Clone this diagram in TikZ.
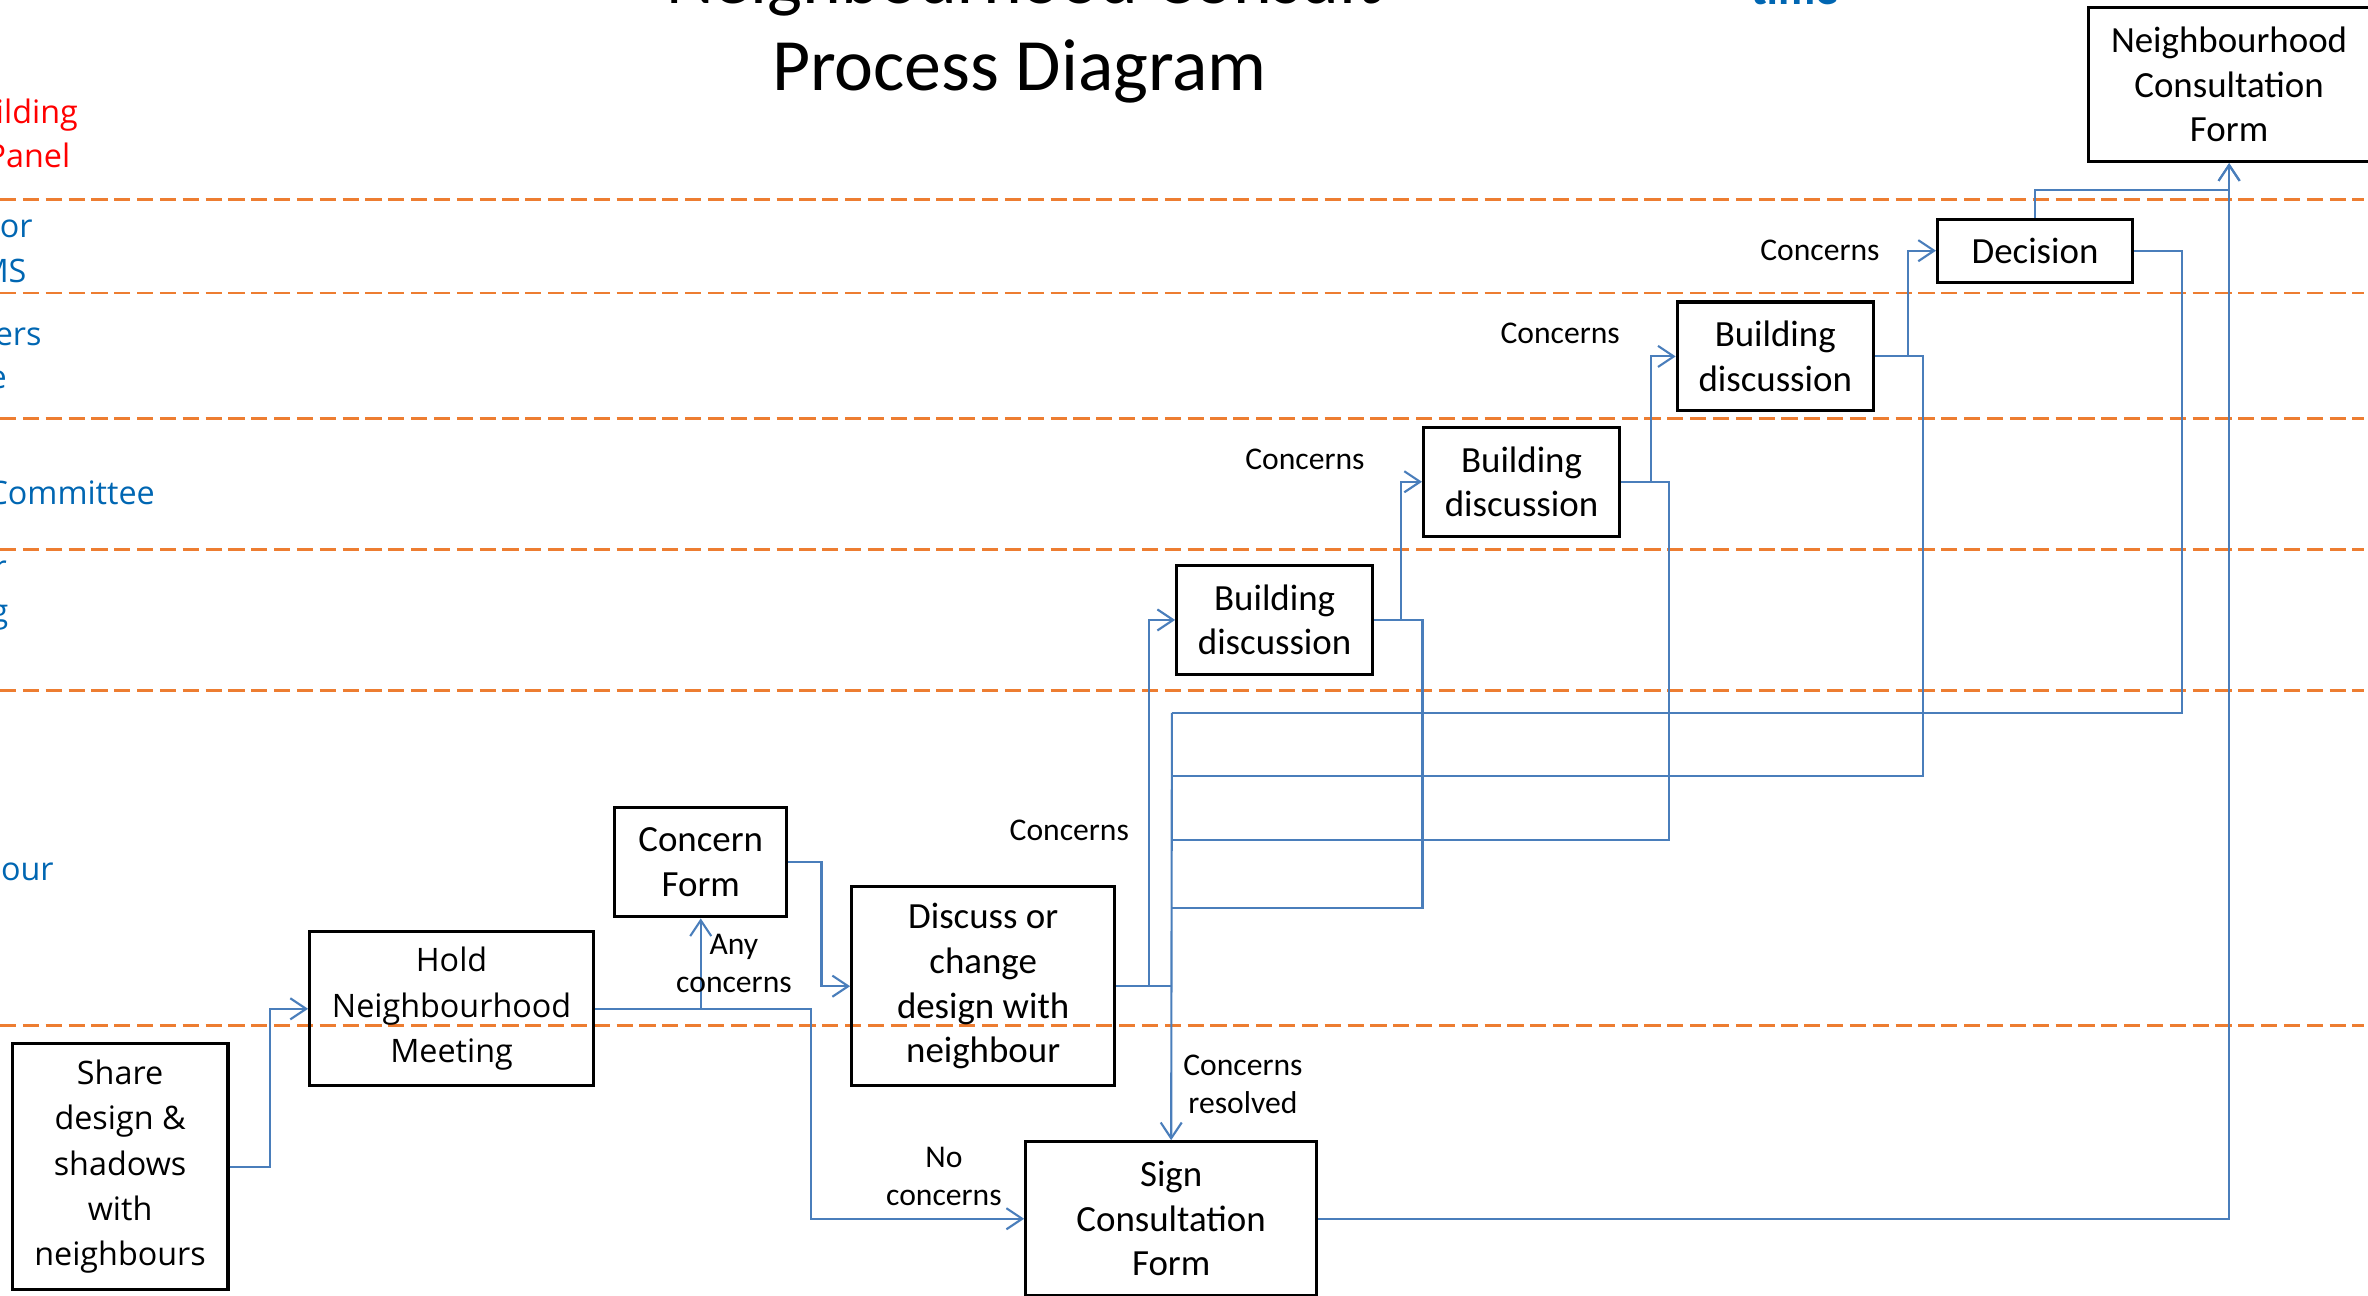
\documentclass[tikz,border=0pt]{standalone}
\usepackage{fontspec}
\setmainfont{Carlito}
\newfontfamily\opensans{Open Sans}
\newfontfamily\dejavu{DejaVu Sans}
\usetikzlibrary{arrows.meta}
\definecolor{flowblue}{RGB}{74,126,187}
\definecolor{laneorange}{RGB}{237,125,49}
\definecolor{laneblue}{RGB}{0,102,178}
\definecolor{lanered}{RGB}{255,0,0}

\begin{document}
\begin{tikzpicture}[x=0.0151cm,y=-0.0151cm,
  box/.style={draw,line width=0.9pt,align=center,inner sep=0pt,
    font=\fontsize{10.5}{12.7}\selectfont},
  wide box/.style={box,font=\opensans\fontsize{9.2}{12.9}\selectfont},
  flow/.style={draw=flowblue,line width=0.6pt},
  flow arrow/.style={flow,-{Straight Barb[length=4.5pt,width=6pt]}},
  lane/.style={laneorange,line width=0.8pt,dash pattern=on 4.6pt off 1.9pt},
  note/.style={align=center,inner sep=0pt,font=\fontsize{9}{10.8}\selectfont},
  lane label/.style={anchor=base east,inner sep=0pt,text=laneblue,
    font=\opensans\fontsize{9.2}{12.5}\selectfont}]

  \useasboundingbox (0,0) rectangle (1568,858);
  \clip (0,0) rectangle (1568,858);

  % swim lanes
  \foreach \y in {132,194,277,364,457,679}
    \draw[lane] (0,\y) -- (1565,\y);

  \node[lane label,text=lanered] (l1a) at (52,82) {ilding};
  \node[lane label,text=lanered] (l1b) at (47,111) {Panel};
  \node[lane label] (l2a) at (22,157) {or};
  \node[lane label] (l2b) at (18,187) {MS};
  \node[lane label] (l3a) at (28,229) {ers};
  \node[lane label] (l3b) at (5,257) {e};
  \node[lane label] (l4) at (103,334) {Committee};
  \node[lane label] (l5a) at (5,383) {r};
  \node[lane label] (l5b) at (6,412) {g};
  \node[lane label] (l6) at (36,583) {our};

  % title
  \node[anchor=base,inner sep=0pt,font=\fontsize{21}{25}\selectfont] (title1) at (678,2) {Neighbourhood Consult};
  \node[anchor=base,inner sep=0pt,font=\fontsize{21}{25}\selectfont] (title2) at (675,59.6) {Process Diagram};
  \node[anchor=base east,inner sep=0pt,text=laneblue,font=\bfseries\fontsize{13}{15}\selectfont] (time) at (1218,3) {{\dejavu →} time};

  % steps
  \node[wide box,minimum width=2.16cm,minimum height=2.46cm] (share) at (79.5,772.5) {Share\\design \&\\shadows\\with\\neighbours};
  \node[wide box,minimum width=2.84cm,minimum height=1.54cm] (hold) at (299,668) {Hold\\Neighbourhood\\Meeting};
  \node[box,minimum width=1.72cm,minimum height=1.09cm] (cform) at (464,571) {Concern\\Form};
  \node[box,minimum width=2.63cm,minimum height=1.99cm] (discuss) at (651,653) {Discuss or\\change\\design with\\neighbour};
  \node[box,minimum width=2.91cm,minimum height=1.54cm] (sign) at (775.5,807) {Sign\\Consultation\\Form};
  \node[box,minimum width=1.96cm,minimum height=1.09cm] (bd1) at (844,410.5) {Building\\discussion};
  \node[box,minimum width=1.96cm,minimum height=1.09cm] (bd2) at (1007.5,319) {Building\\discussion};
  \node[box,minimum width=1.96cm,minimum height=1.09cm] (bd3) at (1175.5,236) {Building\\discussion};
  \node[box,minimum width=1.95cm,minimum height=0.63cm] (decision) at (1347.5,166) {Decision};
  \node[box,minimum width=2.81cm,minimum height=1.54cm] (ncf) at (1476,56) {Neighbourhood\\Consultation\\Form};

  % where the loops join the line down to the form
  \coordinate (j1) at (776,601);
  \coordinate (j2) at (776,556);
  \coordinate (j3) at (776,514);
  \coordinate (j4) at (776,472);

  \draw[flow arrow] (share.east) -- ++(27,0) |- (hold.west);
  \draw[flow arrow] (hold.east) -| (cform.south);
  \draw[flow arrow] (hold.east) -- ++(143,0) |- (sign.west);
  \draw[flow arrow] (cform.east) -- ++(22,0) |- (discuss.west);
  \draw[flow arrow] (discuss.east) -- ++(22,0) |- (bd1.west);
  \draw[flow] (discuss.east) -- (discuss.east -| sign.north);
  \draw[flow arrow] (j4) -- (sign.north);
  \draw[flow arrow] (bd1.east) -- ++(18,0) |- (bd2.west);
  \draw[flow] (bd1.east) -- ++(32,0) |- (j1);
  \draw[flow arrow] (bd2.east) -- ++(20,0) |- (bd3.west);
  \draw[flow] (bd2.east) -- ++(32,0) |- (j2);
  \draw[flow arrow] (bd3.east) -- ++(22,0) |- (decision.west);
  \draw[flow] (bd3.east) -- ++(32,0) |- (j3);
  \draw[flow] (decision.east) -- ++(32,0) |- (j4);
  \draw[flow arrow] (decision.north) -- ++(0,-18) -| (ncf.south);
  \draw[flow arrow] (sign.east) -| (ncf.south);

  \node[note] (n1) at (486,638) {Any\\concerns};
  \node[note] (n2) at (625,779) {No\\concerns};
  \node[note,anchor=east] (n3) at (748,550) {Concerns};
  \node[note] (n4) at (823,718) {Concerns\\resolved};
  \node[note,anchor=east] (n5) at (904,304) {Concerns};
  \node[note,anchor=east] (n6) at (1073,221) {Concerns};
  \node[note,anchor=east] (n7) at (1245,166) {Concerns};
\end{tikzpicture}
\end{document}
